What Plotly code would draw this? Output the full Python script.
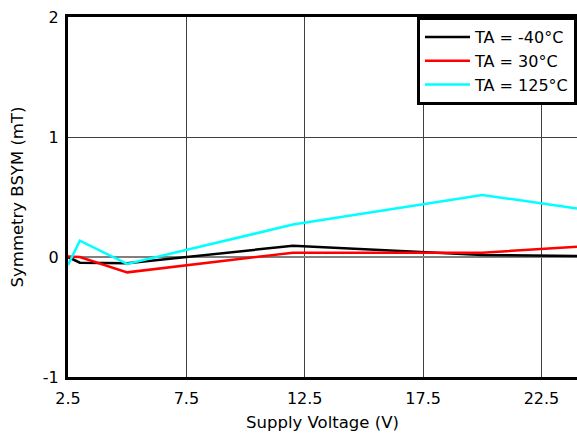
import plotly.graph_objects as go

x_m40 = [2.5, 3.0, 5.0, 12.0, 20.0, 24.0]
y_m40 = [0.0, -0.047, -0.053, 0.094, 0.017, 0.008]

x_30 = [2.5, 3.0, 5.0, 12.0, 20.0, 24.0]
y_30 = [0.005, 0.0, -0.128, 0.036, 0.036, 0.086]

x_125 = [2.5, 3.0, 5.0, 12.0, 20.0, 24.0]
y_125 = [-0.067, 0.136, -0.058, 0.27, 0.517, 0.405]

names = ["TA = -40°C", "TA = 30°C", "TA = 125°C"]
colors = ["#000000", "#ff0000", "#00ffff"]

x_ticks = [2.5, 7.5, 12.5, 17.5, 22.5]
y_ticks = [-1, 0, 1, 2]

fig = go.Figure()
for xs, ys, n, c in zip([x_m40, x_30, x_125], [y_m40, y_30, y_125], names, colors):
    fig.add_trace(go.Scatter(x=xs, y=ys, mode="lines", name=n,
                             line=dict(color=c, width=2.5)))

fam = "DejaVu Sans, Liberation Sans, Arial, sans-serif"
font = dict(family=fam, size=16, color="#000000")

# figure is wider than the window; the plot's right side is clipped at 577px
W, H = 600, 436
L, T, B = 68, 17, 59
R = W - 577

fig.update_layout(
    width=W, height=H,
    margin=dict(l=L, r=R, t=T, b=B, autoexpand=False),
    paper_bgcolor="white", plot_bgcolor="white",
    font=font,
    showlegend=True,
    legend=dict(x=(417 - 68) / (577 - 68), y=1, xanchor="left", yanchor="top",
                bordercolor="black", borderwidth=3, bgcolor="white",
                font=dict(family=fam, size=16, color="#000000"),
                tracegroupgap=0, itemwidth=45),
    xaxis=dict(range=[2.5, 24], tickvals=x_ticks, ticktext=[str(v) for v in x_ticks],
               showgrid=True, gridcolor="#404040", gridwidth=1,
               showline=True, linecolor="black", linewidth=3, mirror=True,
               ticks="", zeroline=False, automargin=False, ticklabelstandoff=5,
               ticklabeloverflow="allow",
               tickfont=dict(family=fam, size=16),
               title=dict(text="Supply Voltage (V)", standoff=10,
                          font=dict(family=fam, size=16.5))),
    yaxis=dict(range=[-1, 2], tickvals=y_ticks, ticktext=[str(v) for v in y_ticks],
               showgrid=True, gridcolor="#404040", gridwidth=1,
               showline=True, linecolor="black", linewidth=3, mirror=True,
               ticks="", zeroline=True, zerolinecolor="#808080", zerolinewidth=2,
               automargin=False, ticklabelstandoff=3, ticklabeloverflow="allow",
               tickfont=dict(family=fam, size=16),
               title=dict(text="Symmetry BSYM (mT)", standoff=16,
                          font=dict(family=fam, size=16.5))),
)

fig.write_html("out.html",
               config={"displayModeBar": False},
               post_script="document.body.style.margin='0';"
                           "document.body.style.overflow='hidden';")
